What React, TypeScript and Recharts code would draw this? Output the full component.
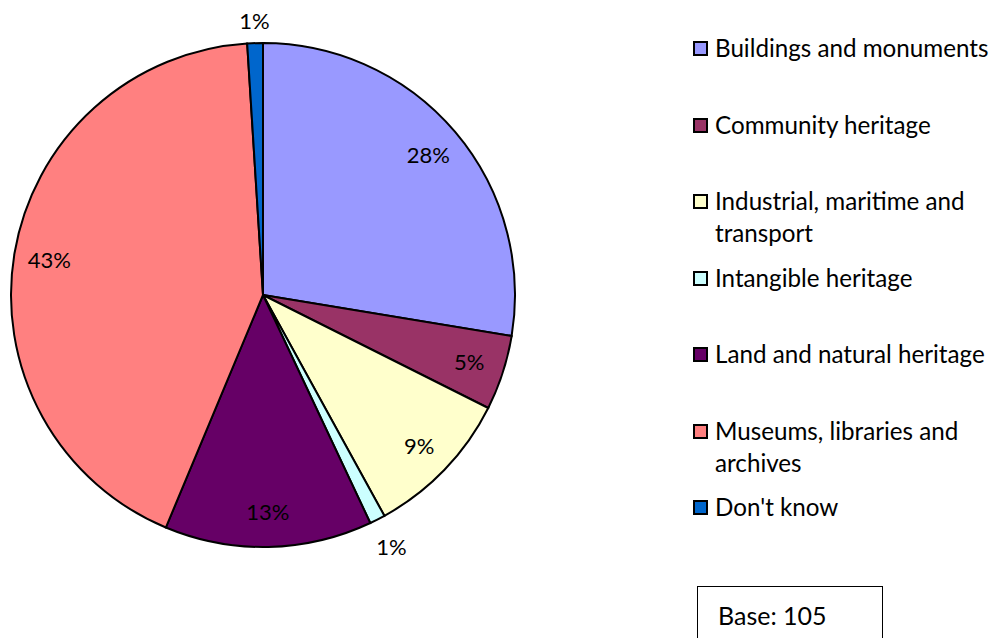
import { PieChart, Pie, Cell, Legend } from 'recharts';

// share of respondents by heritage type (base: 105)
const categories = [
  'Buildings and monuments',
  'Community heritage',
  'Industrial, maritime and transport',
  'Intangible heritage',
  'Land and natural heritage',
  'Museums, libraries and archives',
  "Don't know",
];
const shares = [27.6, 4.8, 9.6, 1.0, 13.3, 42.7, 1.0];
const shareLabels = ['28%', '5%', '9%', '1%', '13%', '43%', '1%'];
const colors = ['#9999FF', '#993366', '#FFFFCC', '#CCFFFF', '#660066', '#FF8080', '#0066CC'];
const baseText = 'Base: 105';

const FONT = "Lato, 'Noto Sans', sans-serif";
const RAD = Math.PI / 180;

const data = categories.map((name, i) => ({ name, value: shares[i], label: shareLabels[i] }));

function renderLabel(props: any) {
  const { cx, cy, midAngle, outerRadius, index } = props;
  const sin = Math.sin(-midAngle * RAD);
  const cos = Math.cos(-midAngle * RAD);
  let r: number;
  if (shares[index] < 2) {
    // small slices: label box sits just outside the rim
    const ext = 22 * Math.abs(cos) + 11 * Math.abs(sin);
    r = outerRadius + 11 + ext;
  } else {
    r = outerRadius * 0.86;
  }
  return (
    <text
      x={cx + r * cos}
      y={cy + r * sin}
      textAnchor="middle"
      dominantBaseline="central"
      fill="#000"
      fontSize={22}
      fontFamily={FONT}
    >
      {shareLabels[index]}
    </text>
  );
}

function LegendContent() {
  return (
    <ul style={{ listStyle: 'none', margin: 0, padding: 0, fontFamily: FONT }}>
      {categories.map((name, i) => (
        <li key={name} style={{ display: 'flex', height: 76.5, alignItems: 'flex-start' }}>
          <span
            style={{
              width: 11,
              height: 11,
              marginTop: 9,
              marginRight: 7,
              flex: '0 0 auto',
              background: colors[i],
              border: '2px solid #000',
            }}
          />
          <span style={{ width: 285, fontSize: 24.2, lineHeight: '32px', color: '#000' }}>{name}</span>
        </li>
      ))}
    </ul>
  );
}

export default function App() {
  return (
    <div style={{ position: 'relative', width: 992, height: 630 }}>
      <PieChart width={992} height={630} margin={{ top: 0, right: 0, bottom: 0, left: 0 }}>
        <Pie
          data={data}
          dataKey="value"
          nameKey="name"
          cx={255}
          cy={287}
          outerRadius={252}
          startAngle={90}
          endAngle={-270}
          stroke="#000"
          strokeWidth={2}
          label={renderLabel}
          labelLine={false}
          isAnimationActive={false}
        >
          {data.map((d, i) => (
            <Cell key={d.name} fill={colors[i]} />
          ))}
        </Pie>
        <Legend
          layout="vertical"
          align="right"
          verticalAlign="top"
          content={<LegendContent />}
          wrapperStyle={{ position: 'absolute', left: 685, top: 24, width: 306 }}
        />
      </PieChart>
      <div
        style={{
          position: 'absolute',
          left: 689,
          top: 578,
          width: 186,
          height: 60,
          border: '1.5px solid #000',
          boxSizing: 'border-box',
          fontFamily: FONT,
          fontSize: 25,
          paddingLeft: 20,
          paddingTop: 13,
          color: '#000',
        }}
      >
        {baseText}
      </div>
    </div>
  );
}
